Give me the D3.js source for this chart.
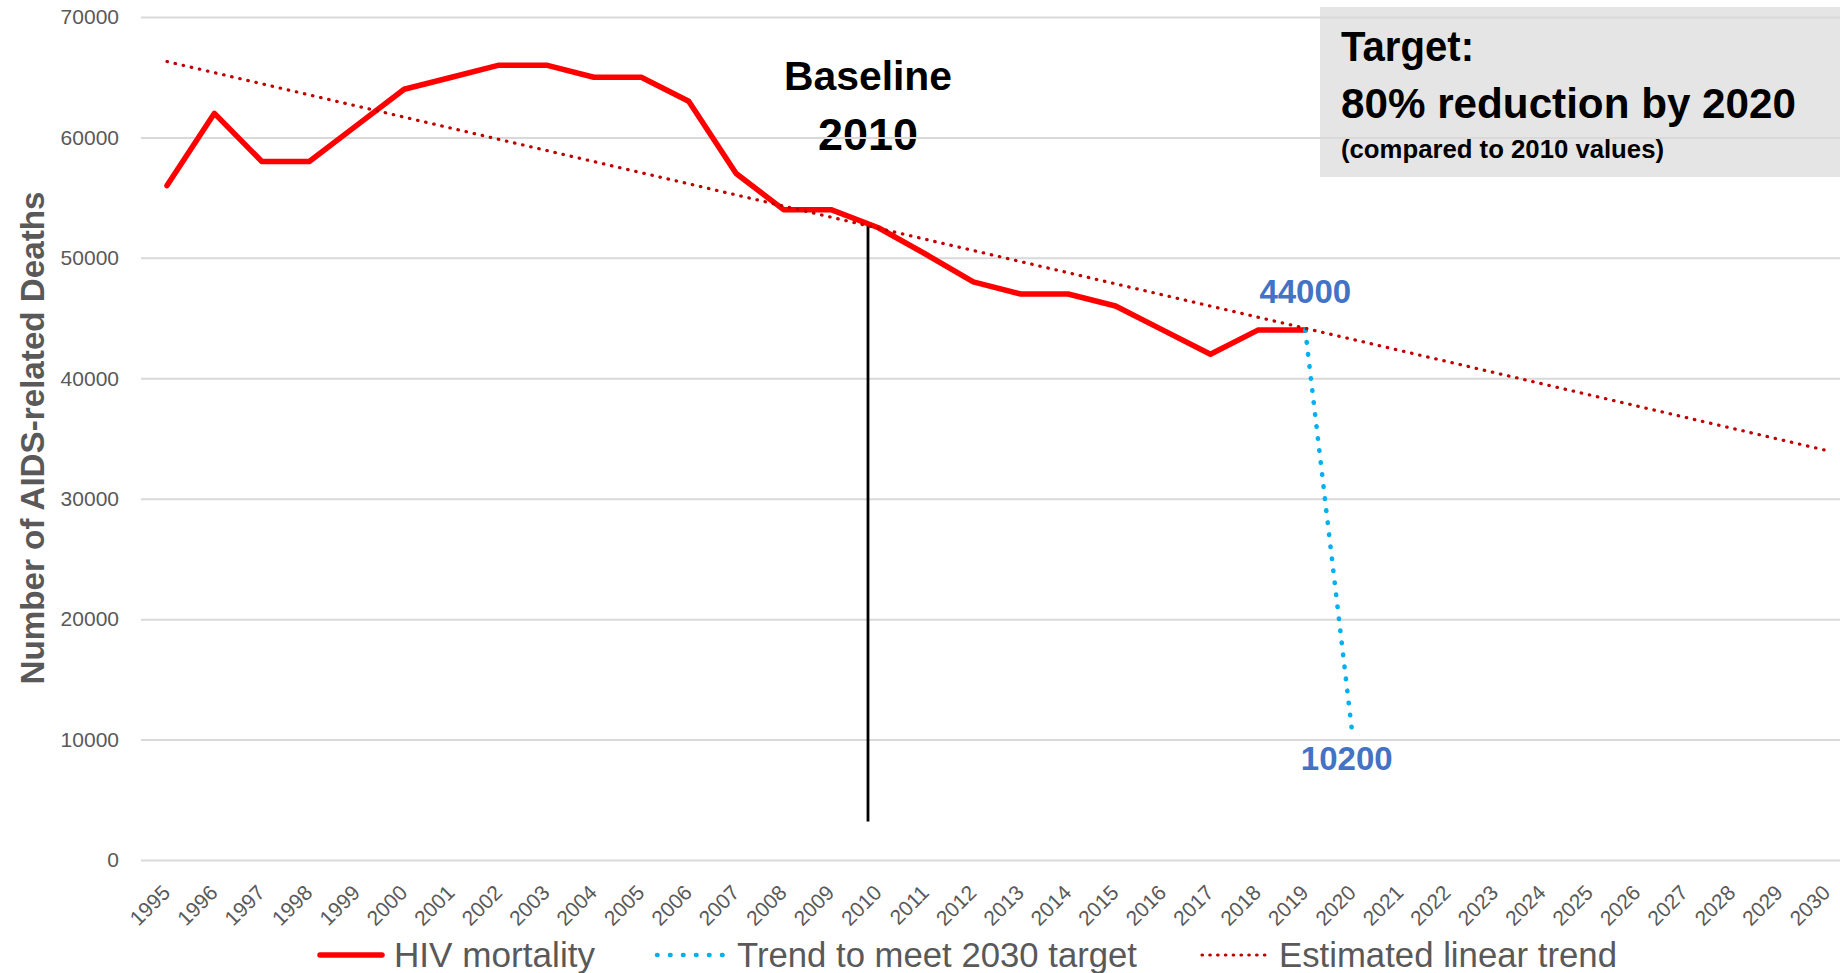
<!DOCTYPE html>
<html><head><meta charset="utf-8">
<script src="https://cdn.jsdelivr.net/npm/d3@7"></script>
<style>html,body{margin:0;padding:0;background:#fff;} svg{display:block;}</style>
</head><body>
<svg id="chart" width="1840" height="973"></svg>
<script>
// ---------- data ----------
const tickYears = [1995,1996,1997,1998,1999,2000,2001,2002,2003,2004,2005,2006,2007,2008,2009,2010,2011,2012,2013,2014,2015,2016,2017,2018,2019,2020,2021,2022,2023,2024,2025,2026,2027,2028,2029,2030];
const yTicks = [0,10000,20000,30000,40000,50000,60000,70000];

const mortalityYears  = [1995,1996,1997,1998,1999,2000,2001,2002,2003,2004,2005,2006,2007,2008,2009,2010,2011,2012,2013,2014,2015,2016,2017,2018,2019];
const mortalityValues = [56000,62000,58000,58000,61000,64000,65000,66000,66000,65000,65000,63000,57000,54000,54000,52500,50300,48000,47000,47000,46000,44000,42000,44000,44000];

const targetYears  = [2019, 2020];
const targetValues = [44000, 10200];

const trendYears  = [1995, 2030];
const trendValues = [66300, 34000];

const baselineYear  = 2009.78;
const baselineSpan  = [3200, 52650];

const seriesNames = ["HIV mortality", "Trend to meet 2030 target", "Estimated linear trend"];
const yTitle = "Number of AIDS-related Deaths";
const baselineText = ["Baseline", "2010"];
const targetText = ["Target:", "80% reduction by 2020", "(compared to 2010 values)"];

// ---------- setup ----------
const W = 1840, H = 973;
const FONT = "'Liberation Sans', Arial, Helvetica, sans-serif";
const svg = d3.select("#chart");
const plotLeft = 141;
const x = d3.scaleLinear().domain([1995, 2030]).range([167, 1827]);
const y = d3.scaleLinear().domain([0, 70000]).range([860, 17]);

// ---------- target box (behind gridlines) ----------
svg.append("rect").attr("x", 1320).attr("y", 7).attr("width", W - 1320).attr("height", 170).attr("fill", "#e5e5e5");
const tg = svg.append("g").attr("font-family", FONT).attr("font-weight", "bold").attr("fill", "#000");
const tSpec = [
  {y: 61, size: 42, len: 133},
  {y: 118, size: 42, len: 455},
  {y: 158, size: 25.5, len: 323}
];
targetText.forEach((t, i) => {
  tg.append("text").attr("x", 1341).attr("y", tSpec[i].y).attr("font-size", tSpec[i].size)
    .attr("textLength", tSpec[i].len).attr("lengthAdjust", "spacingAndGlyphs").text(t);
});

// ---------- baseline annotation text ----------
const bg = svg.append("g").attr("font-family", FONT).attr("font-weight", "bold").attr("fill", "#000").attr("text-anchor", "middle");
bg.append("text").attr("x", x(baselineYear)).attr("y", 90).attr("font-size", 40)
  .attr("textLength", 168).attr("lengthAdjust", "spacingAndGlyphs").text(baselineText[0]);
bg.append("text").attr("x", x(baselineYear)).attr("y", 150).attr("font-size", 44)
  .attr("textLength", 100).attr("lengthAdjust", "spacingAndGlyphs").text(baselineText[1]);

// ---------- y axis + gridlines ----------
const yAxis = d3.axisLeft(y).tickValues(yTicks).tickFormat(d3.format("d"))
  .tickSizeInner(-(W - plotLeft)).tickSizeOuter(0).tickPadding(22);
const gy = svg.append("g").attr("transform", `translate(${plotLeft},0)`).call(yAxis);
gy.select(".domain").remove();
gy.selectAll(".tick line").attr("stroke", "#d9d9d9").attr("stroke-width", 2);
gy.selectAll(".tick text").attr("fill", "#595959").attr("font-size", 21).attr("font-family", FONT);

// ---------- x axis labels ----------
const xAxis = d3.axisBottom(x).tickValues(tickYears).tickFormat(d3.format("d")).tickSize(0);
const gx = svg.append("g").attr("transform", `translate(0,${y(0)})`).call(xAxis);
gx.select(".domain").remove();
gx.selectAll(".tick text")
  .attr("fill", "#595959").attr("font-size", 21).attr("font-family", FONT)
  .attr("text-anchor", "end").attr("x", 0).attr("y", 0).attr("dy", 0)
  .attr("transform", "translate(4,34) rotate(-45)");

// ---------- title ----------
svg.append("text").attr("transform", "translate(44,438) rotate(-90)")
  .attr("text-anchor", "middle").attr("font-family", FONT).attr("font-weight", "bold")
  .attr("font-size", 33).attr("fill", "#595959")
  .attr("textLength", 493).attr("lengthAdjust", "spacingAndGlyphs").text(yTitle);

// ---------- baseline vertical line ----------
svg.append("line")
  .attr("x1", x(baselineYear)).attr("x2", x(baselineYear))
  .attr("y1", y(baselineSpan[0])).attr("y2", y(baselineSpan[1]))
  .attr("stroke", "#000").attr("stroke-width", 2.8);

// ---------- series ----------
const line = d3.line().x(d => x(d[0])).y(d => y(d[1]));

svg.append("path").datum(mortalityYears.map((yr, i) => [yr, mortalityValues[i]]))
  .attr("d", line).attr("fill", "none").attr("stroke", "#ff0000").attr("stroke-width", 5.5)
  .attr("stroke-linejoin", "round").attr("stroke-linecap", "round");

svg.append("path").datum(targetYears.map((yr, i) => [yr, targetValues[i]]))
  .attr("d", line).attr("fill", "none").attr("stroke", "#00b0f0").attr("stroke-width", 4.6)
  .attr("stroke-dasharray", "0.5 11.6").attr("stroke-linecap", "round");

svg.append("path").datum(trendYears.map((yr, i) => [yr, trendValues[i]]))
  .attr("d", line).attr("fill", "none").attr("stroke", "#c00000").attr("stroke-width", 3.2)
  .attr("stroke-dasharray", "0.5 7.8").attr("stroke-linecap", "round");

// ---------- data labels ----------
const lg = svg.append("g").attr("font-family", FONT).attr("font-weight", "bold")
  .attr("fill", "#4472c4").attr("font-size", 33).attr("text-anchor", "middle");
lg.append("text").attr("x", x(targetYears[0])).attr("y", y(targetValues[0]) - 27).text(d3.format("d")(targetValues[0]));
lg.append("text").attr("x", x(targetYears[1]) - 6).attr("y", y(targetValues[1]) + 33).text(d3.format("d")(targetValues[1]));

// ---------- legend ----------
const legendLayout = [
  {x0: 320, x1: 382, tx: 394, len: 201, color: "#ff0000", w: 5.5, dash: null},
  {x0: 657, x1: 724, tx: 737, len: 400, color: "#00b0f0", w: 4.6, dash: "0.5 12.5"},
  {x0: 1202, x1: 1270, tx: 1279, len: 338, color: "#c00000", w: 3.2, dash: "0.5 7.3"}
];
const leg = svg.append("g");
seriesNames.forEach((name, i) => {
  const L = legendLayout[i];
  const ln = leg.append("line").attr("x1", L.x0).attr("x2", L.x1).attr("y1", 955).attr("y2", 955)
    .attr("stroke", L.color).attr("stroke-width", L.w).attr("stroke-linecap", "round");
  if (L.dash) ln.attr("stroke-dasharray", L.dash);
  leg.append("text").attr("x", L.tx).attr("y", 967).attr("font-family", FONT).attr("font-size", 34.5)
    .attr("fill", "#595959").attr("textLength", L.len).attr("lengthAdjust", "spacingAndGlyphs").text(name);
});
</script>
</body></html>
